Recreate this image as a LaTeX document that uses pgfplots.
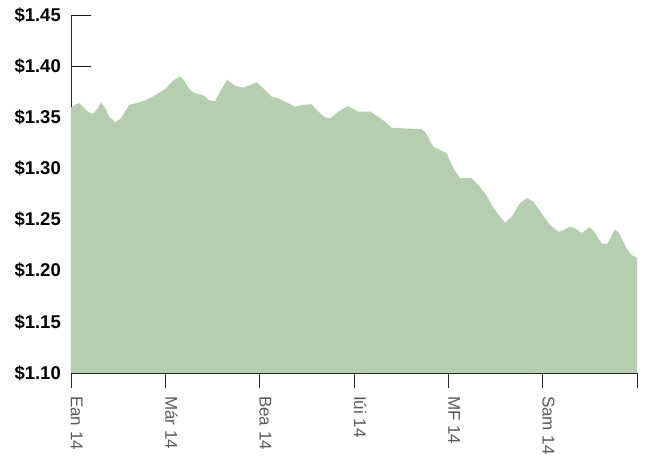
\documentclass[border=0pt]{standalone}
\usepackage{fontspec}
\setmainfont{Liberation Sans}
\usepackage{pgfplots}
\pgfplotsset{compat=1.18}
\definecolor{areagreen}{HTML}{B5CEB0}
\definecolor{labgray}{HTML}{5A5A5A}
\begin{document}
\begin{tikzpicture}
\begin{axis}[
  name=ax,
  scale only axis, width=566pt, height=358pt,
  xmin=0, xmax=12, ymin=1.10, ymax=1.45,
  axis lines*=left,
  axis line style={black!85, line width=0.9pt},
  xtick={0,2,4,6,8,10,12},
  xticklabels={Ean 14,Már 14,Bea 14,Iúi 14,MF 14,Sam 14,{}},
  ytick={1.10,1.15,1.20,1.25,1.30,1.35,1.40,1.45},
  yticklabels={\$1.10,\$1.15,\$1.20,\$1.25,\$1.30,\$1.35,\$1.40,\$1.45},
  major tick length=20pt,
  xtick align=outside, ytick align=inside,
  x tick style={black!85, line width=0.8pt, yscale=0.75},
  y tick style={black!90, line width=0.8pt},
  xticklabel style={font=\fontsize{17}{20}\selectfont, text=labgray, rotate=-90, anchor=base west, inner sep=0pt},
  xticklabel shift=3pt,
  yticklabel style={font=\bfseries\fontsize{18.5}{21}\selectfont, anchor=east, inner sep=0pt},
  yticklabel shift=10pt,
]
\addplot[fill=areagreen, draw=none] coordinates {
(0.000,1.3594) (0.106,1.3627) (0.176,1.3637) (0.248,1.3604) (0.354,1.3555)
(0.460,1.3532) (0.566,1.3588) (0.636,1.3643) (0.706,1.3604) (0.812,1.3506)
(0.939,1.3451) (1.060,1.3490) (1.236,1.3620) (1.448,1.3647) (1.590,1.3669)
(1.802,1.3718) (2.014,1.3783) (2.100,1.3830) (2.190,1.3865) (2.311,1.3897)
(2.360,1.3880) (2.523,1.3767) (2.629,1.3735) (2.805,1.3718) (2.911,1.3669)
(3.053,1.3656) (3.159,1.3750) (3.314,1.3865) (3.477,1.3809) (3.653,1.3789)
(3.937,1.3842) (4.077,1.3783) (4.255,1.3701) (4.395,1.3686) (4.537,1.3652)
(4.749,1.3604) (4.891,1.3620) (5.103,1.3627) (5.243,1.3555) (5.385,1.3500)
(5.491,1.3490) (5.667,1.3555) (5.866,1.3610) (6.091,1.3555) (6.339,1.3555)
(6.515,1.3506) (6.657,1.3457) (6.799,1.3398) (7.435,1.3383) (7.505,1.3359)
(7.681,1.3213) (7.893,1.3164) (7.965,1.3148) (8.105,1.3001) (8.247,1.2904)
(8.495,1.2904) (8.635,1.2838) (8.777,1.2757) (8.988,1.2594) (9.201,1.2469)
(9.343,1.2528) (9.519,1.2659) (9.667,1.2711) (9.801,1.2675) (9.979,1.2561)
(10.155,1.2447) (10.331,1.2381) (10.430,1.2393) (10.579,1.2430) (10.685,1.2415)
(10.827,1.2369) (11.003,1.2424) (11.073,1.2393) (11.251,1.2266) (11.374,1.2266)
(11.533,1.2403) (11.617,1.2369) (11.780,1.2219) (11.887,1.2154) (12.000,1.2121)
} \closedcycle;
\end{axis}
\pgfresetboundingbox
\path[use as bounding box] ([shift={(-71pt,-86pt)}]ax.south west) rectangle ([shift={(12pt,15pt)}]ax.north east);
\end{tikzpicture}
\end{document}
